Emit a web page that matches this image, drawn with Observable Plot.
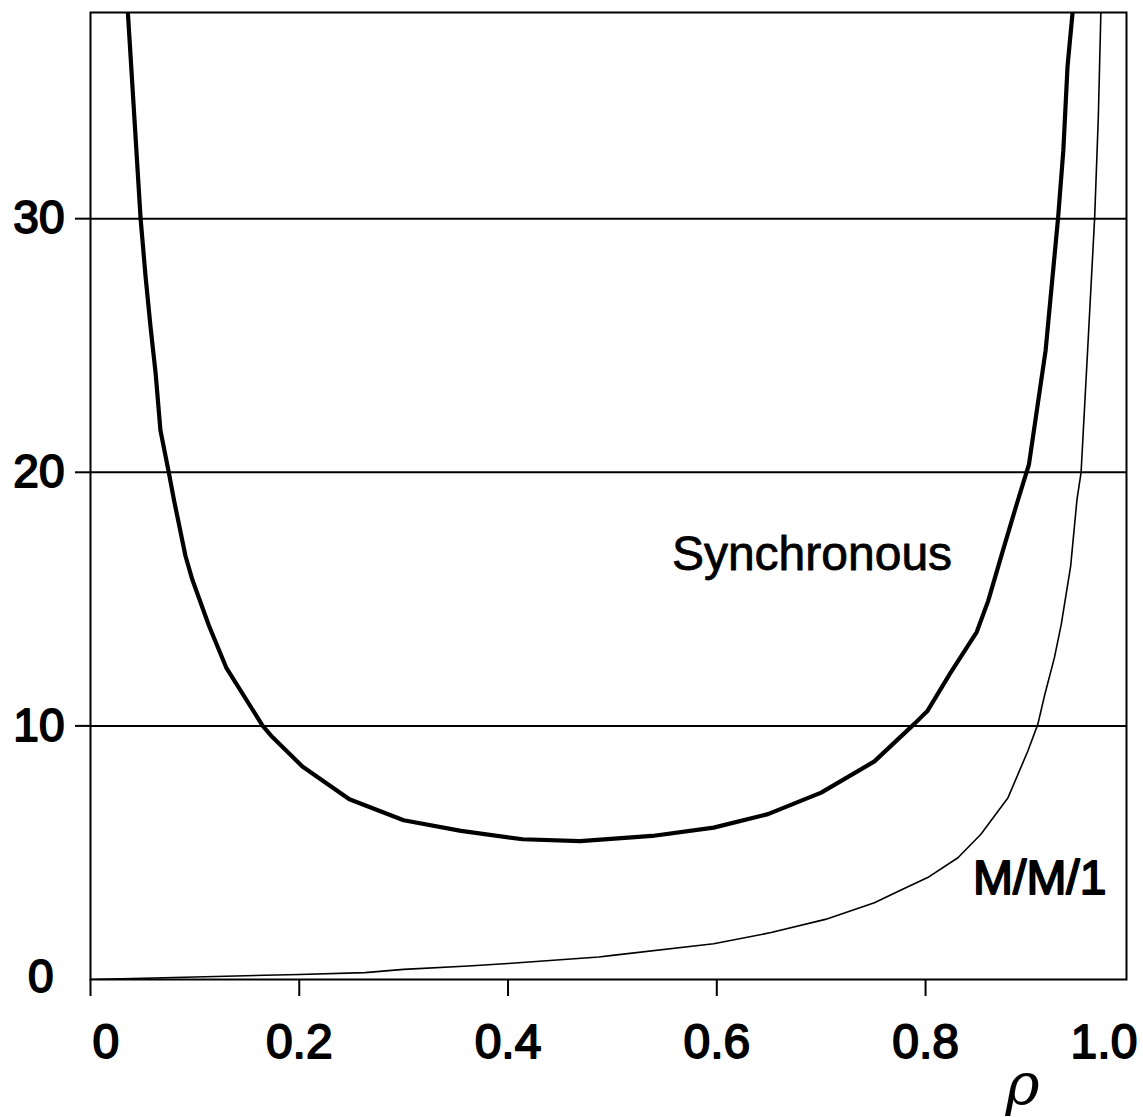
<!DOCTYPE html>
<html><head><meta charset="utf-8">
<script src="https://cdn.jsdelivr.net/npm/d3@7"></script>
<script src="https://cdn.jsdelivr.net/npm/@observablehq/plot@0.6"></script>
<style>body{margin:0;background:#fff} svg{display:block}</style>
</head><body><div id="chart"></div>
<script>
// Synchronous curve (thick)
const syncRho = [0.030, 0.048, 0.0528, 0.0576, 0.0624, 0.067, 0.075, 0.080, 0.091, 0.0976, 0.1135, 0.130, 0.165, 0.174, 0.203, 0.248, 0.300, 0.355, 0.414, 0.469, 0.538, 0.597, 0.649, 0.700, 0.751, 0.789, 0.802, 0.824, 0.849, 0.860, 0.874, 0.887, 0.899, 0.915, 0.927, 0.932, 0.936, 0.941, 0.946];
const syncVal = [42.0, 30.0, 27.7, 25.7, 23.9, 21.65, 20.0, 18.9, 16.7, 15.76, 13.95, 12.3, 10.0, 9.57, 8.4, 7.11, 6.28, 5.86, 5.53, 5.46, 5.66, 5.99, 6.52, 7.37, 8.6, 10.07, 10.6, 12.1, 13.7, 14.93, 16.9, 18.7, 20.3, 24.8, 30.05, 32.7, 36.0, 38.2, 41.0];
// M/M/1 curve (thin)
const mm1Rho = [0, 0.1, 0.2, 0.263, 0.3, 0.362, 0.4, 0.487, 0.5, 0.597, 0.652, 0.704, 0.751, 0.776, 0.802, 0.831, 0.853, 0.879, 0.898, 0.9076, 0.914, 0.9235, 0.930, 0.939, 0.945, 0.949, 0.9555, 0.962, 0.9655, 0.968, 0.971];
const mm1Val = [0, 0.1, 0.2, 0.27, 0.4, 0.53, 0.63, 0.89, 0.95, 1.41, 1.85, 2.37, 3.03, 3.52, 4.02, 4.8, 5.73, 7.17, 9.01, 10.07, 11.2, 12.7, 14.0, 16.3, 18.9, 20.0, 25.0, 30.05, 34.0, 38.2, 41.0];
// Axes
const xTicks = [0, 0.2, 0.4, 0.6, 0.8];
const xLabelTicks = [0.2, 0.4, 0.6, 0.8];
const xFirstLabel = [{v: 0, t: "0"}];
const xLastLabel = [{v: 1.0, t: "1.0"}];
const yTicks = [10, 20, 30];
const yZeroLabel = ["0"];
const xAxisLabel = ["ρ"];
// Curve labels
const curveLabels = [
  {text: "Synchronous", rho: 0.557, value: 16.15},
  {text: "M/M/1", rho: 0.8455, value: 3.37}
];

const syncData = syncRho.map((r, i) => ({rho: r, value: syncVal[i]}));
const mm1Data = mm1Rho.map((r, i) => ({rho: r, value: mm1Val[i]}));

const FONT = "'Liberation Sans', Arial, Helvetica, sans-serif";
const heavy = {fontSize: 47, stroke: "#000", strokeWidth: 1.8, fill: "#000"};

const chart = Plot.plot({
  width: 1143,
  height: 1117,
  marginLeft: 90,
  marginRight: 17,
  marginTop: 12,
  marginBottom: 138,
  style: {fontFamily: FONT, background: "#fff", color: "#000"},
  x: {domain: [0, 0.9925], label: null},
  y: {domain: [0, 38.13], label: null},
  marks: [
    Plot.ruleY(yTicks, {stroke: "#000", strokeWidth: 2}),
    Plot.line(mm1Data, {x: "rho", y: "value", stroke: "#000", strokeWidth: 1.6, clip: true}),
    Plot.line(syncData, {x: "rho", y: "value", stroke: "#000", strokeWidth: 4.2, strokeLinejoin: "round", clip: true}),
    Plot.frame({stroke: "#000", strokeWidth: 2}),
    Plot.axisY({ticks: yTicks, tickSize: 15, tickPadding: 10, strokeWidth: 2, label: null, tickFormat: d => String(d), text: null}),
    Plot.text(yTicks, {y: d => d, text: d => String(d), frameAnchor: "left", textAnchor: "end", lineAnchor: "middle", dx: -26, ...heavy, fontSize: 46}),
    Plot.text(yZeroLabel, {text: d => d, frameAnchor: "bottom-left", textAnchor: "end", lineAnchor: "middle", dx: -37, dy: -2, ...heavy, fontSize: 46}),
    Plot.axisX({ticks: xTicks, tickSize: 17, tickPadding: 27, strokeWidth: 2, text: null, label: null}),
    Plot.text(xLabelTicks, {x: d => d, text: d => d.toFixed(1), frameAnchor: "bottom", textAnchor: "middle", lineAnchor: "top", dy: 44, ...heavy, fontSize: 48}),
    Plot.text(xFirstLabel, {x: "v", text: "t", frameAnchor: "bottom", textAnchor: "start", lineAnchor: "top", dx: 2, dy: 44, ...heavy, fontSize: 48}),
    Plot.text(xLastLabel, {x: "v", text: "t", frameAnchor: "bottom", textAnchor: "end", lineAnchor: "top", dx: 3, dy: 44, ...heavy, fontSize: 48}),
    Plot.text(curveLabels.slice(0, 1), {x: "rho", y: "value", text: "text", textAnchor: "start", lineAnchor: "bottom", fontSize: 48, fill: "#000", stroke: "#000", strokeWidth: 0.8}),
    Plot.text(curveLabels.slice(1), {x: "rho", y: "value", text: "text", textAnchor: "start", lineAnchor: "bottom", ...heavy, fontSize: 48}),
    Plot.text(xAxisLabel, {text: d => d, frameAnchor: "bottom-right", textAnchor: "middle", lineAnchor: "middle", dx: -104, dy: 106, fontSize: 58, fontStyle: "italic", fontFamily: "'DejaVu Serif', serif"})
  ]
});
document.getElementById("chart").appendChild(chart);
</script>
</body></html>
